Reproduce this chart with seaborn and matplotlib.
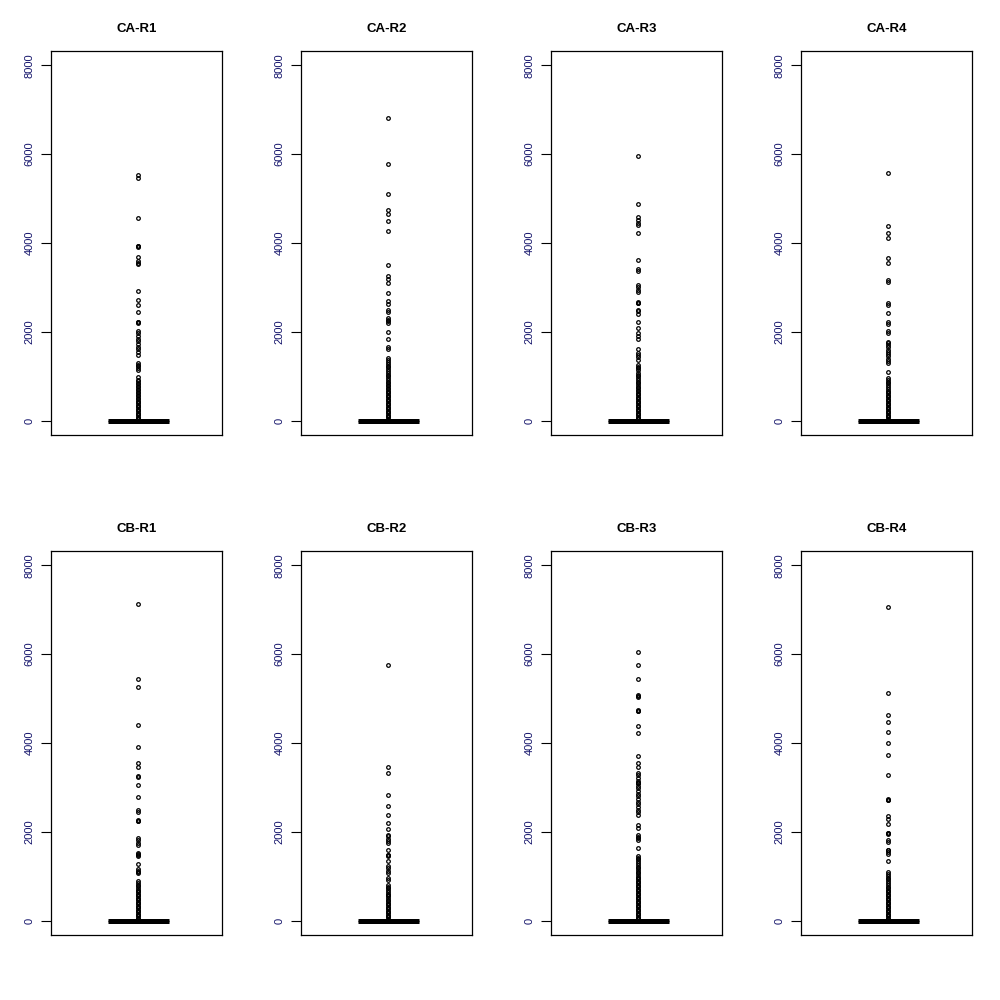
import matplotlib
matplotlib.use("Agg")
import matplotlib.pyplot as plt
import seaborn as sns

# Panel names in drawing order (row by row)
panel_names = ["CA-R1", "CA-R2", "CA-R3", "CA-R4", "CB-R1", "CB-R2", "CB-R3", "CB-R4"]

# Most observations are zero, so box, median and whiskers collapse onto 0
n_zero = 2000

# Non-zero values (all of them end up as outliers).
# "top" = separate points, "stem" = the dense run near the bottom.
ca_r1_top = [5522, 5462, 4569, 3940, 3922, 3905, 3681, 3606, 3545, 3520, 2930,
             2727, 2607, 2450, 2230, 2216, 2200, 2030, 1970, 1910, 1850, 1790,
             1730, 1670, 1610, 1550, 1490, 1300, 1260, 1230, 1190, 1150, 976]
ca_r1_stem = [924, 890, 860, 820, 790, 750, 720, 690, 650, 620, 590, 550, 520,
              480, 450, 420, 390, 360, 330, 300, 270, 240, 210, 180, 150, 120,
              90, 60, 30]
ca_r2_top = [6807, 5770, 5110, 4733, 4643, 4485, 4267, 3501, 3253, 3200, 3095,
             2878, 2698, 2637, 2502, 2450, 2315, 2270, 2238, 2200, 2000, 1833,
             1653, 1607]
ca_r2_stem = [1404, 1360, 1320, 1280, 1240, 1200, 1160, 1120, 1080, 1040, 1000,
              960, 920, 880, 840, 800, 773, 740, 710, 680, 650, 620, 590, 560,
              530, 500, 470, 440, 410, 380, 350, 320, 290, 260, 230, 200, 170,
              140, 110, 80, 50, 20]
ca_r3_top = [5958, 4869, 4592, 4516, 4448, 4396, 4230, 3614, 3420, 3366, 3065,
             3013, 2946, 2892, 2680, 2660, 2640, 2502, 2460, 2412, 2232, 2096,
             1977, 1900, 1841, 1623, 1525, 1475, 1425, 1375, 1262, 1220, 1180,
             1150]
ca_r3_stem = [1082, 1040, 1000, 960, 920, 880, 840, 800, 760, 730, 699, 660,
              630, 600, 570, 540, 510, 480, 450, 420, 390, 360, 330, 300, 270,
              240, 210, 180, 150, 120, 90, 60, 30]
ca_r4_top = [5583, 4380, 4215, 4102, 3667, 3547, 3178, 3117, 2653, 2599, 2427,
             2216, 2171, 2021, 1977, 1780, 1740, 1700, 1650, 1600, 1550, 1500,
             1450, 1400, 1350, 1300, 1105]
ca_r4_stem = [962, 920, 880, 840, 800, 760, 720, 680, 650, 624, 590, 560, 530,
              500, 470, 440, 410, 380, 350, 320, 290, 260, 230, 200, 170, 140,
              110, 80, 50, 20]
cb_r1_top = [7122, 5448, 5268, 4403, 3915, 3561, 3456, 3268, 3230, 3065, 2795,
             2502, 2450, 2270, 2254, 2240, 1864, 1820, 1760, 1706, 1520, 1503,
             1470, 1450, 1285, 1165, 1130, 1100, 1075]
cb_r1_stem = [886, 850, 810, 773, 740, 700, 670, 640, 610, 580, 550, 520, 490,
              460, 430, 400, 370, 340, 310, 280, 250, 220, 190, 160, 130, 100,
              70, 40]
cb_r2_top = [5748, 3449, 3336, 2833, 2592, 2382, 2202, 2074, 1938, 1900, 1850,
             1800, 1751, 1593, 1490, 1472, 1455, 1345, 1224, 1180, 1130, 1075,
             962, 924]
cb_r2_stem = [811, 770, 730, 690, 650, 610, 575, 548, 510, 473, 440, 410, 380,
              350, 320, 290, 260, 230, 200, 170, 140, 110, 80, 50, 20]
cb_r3_top = [6057, 5748, 5448, 5070, 5057, 5040, 4740, 4727, 4710, 4380, 4215,
             3704, 3539, 3464, 3329, 3270, 3210, 3150, 3110, 3100, 3090, 3040,
             2980, 2920, 2860, 2800, 2740, 2680, 2620, 2560, 2500, 2440, 2389,
             2164, 2089, 1938, 1880, 1860, 1826, 1639]
cb_r3_stem = [1465, 1420, 1380, 1340, 1300, 1260, 1220, 1180, 1140, 1100, 1075,
              1020, 990, 962, 930, 900, 870, 840, 810, 780, 750, 720, 690, 660,
              630, 600, 570, 540, 510, 480, 450, 420, 390, 360, 330, 300, 270,
              240, 210, 180, 150, 120, 90, 60, 30]
cb_r4_top = [7070, 5125, 4621, 4463, 4237, 3990, 3734, 3284, 2745, 2727, 2710,
             2351, 2292, 2180, 1985, 1968, 1950, 1826, 1773, 1600, 1585, 1540,
             1503, 1337]
cb_r4_stem = [1089, 1050, 1010, 970, 930, 890, 850, 810, 770, 737, 700, 670,
              640, 610, 580, 550, 520, 490, 460, 430, 400, 370, 340, 310, 280,
              250, 220, 190, 160, 130, 100, 70, 40]

panel_values = [
    ca_r1_top + ca_r1_stem, ca_r2_top + ca_r2_stem,
    ca_r3_top + ca_r3_stem, ca_r4_top + ca_r4_stem,
    cb_r1_top + cb_r1_stem, cb_r2_top + cb_r2_stem,
    cb_r3_top + cb_r3_stem, cb_r4_top + cb_r4_stem,
]
y_ticks = [0, 2000, 4000, 6000, 8000]

sns.set_theme(style="ticks")
plt.rcParams["font.family"] = ["Liberation Sans", "DejaVu Sans"]

fig = plt.figure(figsize=(10, 10), dpi=100)

col_left = [0.051, 0.301, 0.551, 0.801]
row_bottom = [0.565, 0.065]
ax_w, ax_h = 0.171, 0.384

for i, (name, vals) in enumerate(zip(panel_names, panel_values)):
    row, col = divmod(i, 4)
    ax = fig.add_axes([col_left[col], row_bottom[row], ax_w, ax_h])
    data = [0] * n_zero + vals
    sns.boxplot(
        y=data, ax=ax, width=0.357, color="white", linecolor="black",
        linewidth=1,
        medianprops={"linewidth": 3.6, "color": "black"},
        flierprops={"marker": "o", "markerfacecolor": "none",
                    "markeredgecolor": "black", "markersize": 2.6,
                    "markeredgewidth": 0.9},
    )
    ax.set_xlim(-0.51, 0.49)
    ax.set_xticks([])
    ax.set_ylim(-320, 8320)
    ax.set_yticks(y_ticks)
    ax.set_yticklabels([str(t) for t in y_ticks], rotation=90, va="center",
                       fontsize=8, color="#14146b")
    ax.tick_params(axis="y", length=7, width=0.8, pad=5, color="black")
    ax.set_ylabel("")
    for s in ax.spines.values():
        s.set_color("black")
        s.set_linewidth(0.9)
    ax.set_title(name, fontsize=9.5, fontweight="bold", color="black", pad=14)

fig.savefig("out.png", dpi=100)
